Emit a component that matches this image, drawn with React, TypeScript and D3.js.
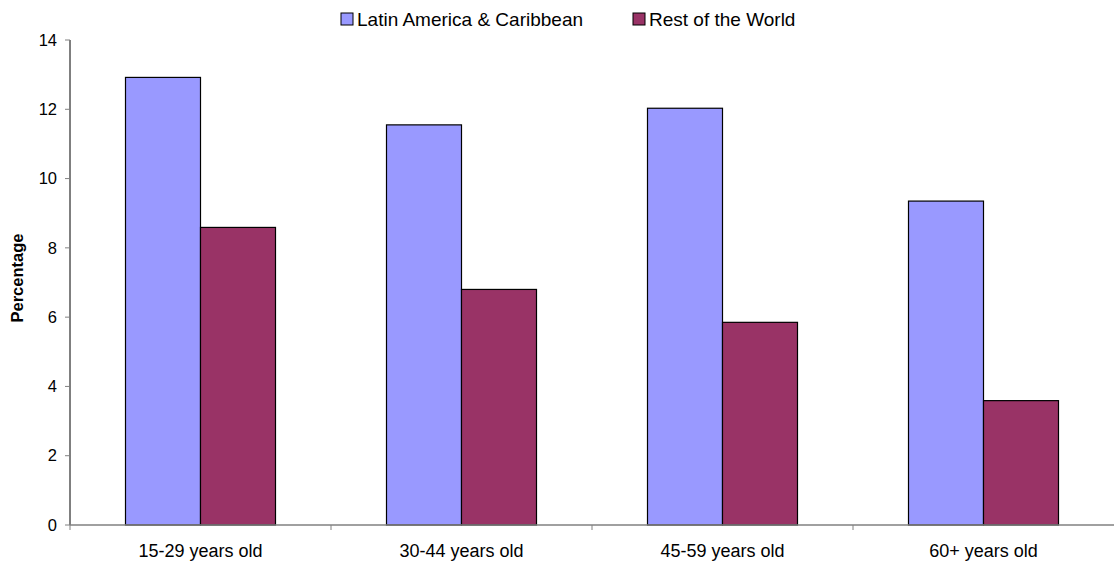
import React from "react";
import * as d3 from "d3";

const categories = ["15-29 years old", "30-44 years old", "45-59 years old", "60+ years old"];
const seriesNames = ["Latin America & Caribbean", "Rest of the World"];
const latinAmerica = [12.92, 11.55, 12.03, 9.35];
const restOfWorld = [8.59, 6.80, 5.85, 3.59];
const yTicks = [0, 2, 4, 6, 8, 10, 12, 14];
const colors = ["#9999FF", "#993366"];

export default function App() {
  const W = 1114, H = 565;
  const left = 70, right = 1114, top = 40, bottom = 525;
  const x0 = d3.scaleBand().domain(categories).range([left, right]).paddingInner(0).paddingOuter(0);
  const x1 = d3.scaleBand().domain(seriesNames).range([0, x0.bandwidth()]).paddingInner(0).paddingOuter(0.74);
  const y = d3.scaleLinear().domain([0, 14]).range([bottom, top]);
  const series = [latinAmerica, restOfWorld];
  const font = "Liberation Sans, Arial, sans-serif";
  const boundaries = categories.map((c) => x0(c) as number);

  return (
    <svg width={W} height={H} style={{ position: "absolute", left: 0, top: 0 }} fontFamily={font}>
      <rect width={W} height={H} fill="#fff" />
      {series.map((vals, si) =>
        vals.map((v, i) => {
          const bx = (x0(categories[i]) as number) + (x1(seriesNames[si]) as number);
          return (
            <rect key={`${si}-${i}`} x={bx} y={y(v)} width={x1.bandwidth()} height={y(0) - y(v)}
              fill={colors[si]} stroke="#000" strokeWidth={1.2} />
          );
        })
      )}
      {/* y axis */}
      <line x1={left} x2={left} y1={top} y2={bottom} stroke="#000" strokeWidth={1} />
      {yTicks.map((t) => (
        <g key={t}>
          <line x1={left - 5} x2={left} y1={y(t)} y2={y(t)} stroke="#808080" />
          <text x={57} y={y(t)} dy="0.35em" textAnchor="end" fontSize={16.5} fill="#000">{t}</text>
        </g>
      ))}
      {/* x axis */}
      <line x1={left} x2={right} y1={bottom} y2={bottom} stroke="#808080" strokeWidth={1.3} />
      {boundaries.map((b, i) => (
        <line key={i} x1={b} x2={b} y1={bottom} y2={bottom + 5} stroke="#808080" />
      ))}
      {categories.map((c) => (
        <text key={c} x={(x0(c) as number) + x0.bandwidth() / 2} y={551} dy="0.35em" textAnchor="middle" fontSize={18} fill="#000">{c}</text>
      ))}
      <text transform={`translate(17,278) rotate(-90)`} textAnchor="middle" dy="0.35em" fontSize={16.5} fontWeight="bold" fill="#000">Percentage</text>
      {/* legend */}
      {seriesNames.map((s, i) => {
        const lx = i === 0 ? 341 : 633;
        return (
          <g key={s}>
            <rect x={lx} y={13} width={12} height={12} fill={colors[i]} stroke="#000" strokeWidth={1} />
            <text x={lx + 16} y={19} dy="0.35em" fontSize={19} fill="#000">{s}</text>
          </g>
        );
      })}
    </svg>
  );
}
